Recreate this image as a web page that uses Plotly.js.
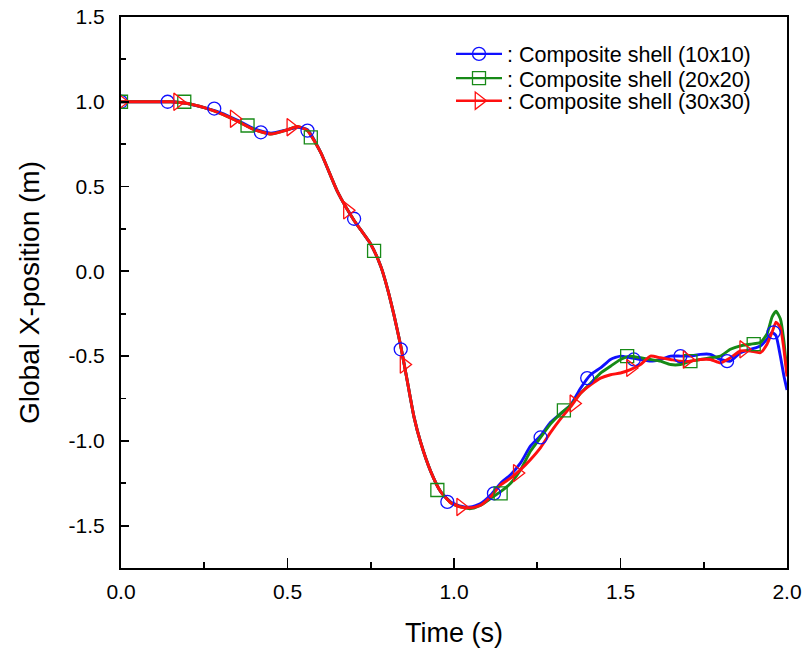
<!DOCTYPE html>
<html>
<head>
<meta charset="utf-8">
<script src="https://cdn.plot.ly/plotly-3.0.1.min.js"></script>
<style>html,body{margin:0;padding:0;background:#fff;}#chart{width:808px;height:654px;}</style>
</head>
<body>
<div id="chart"></div>
<script>
// ---- Data ----
var seriesNames = [": Composite shell (10x10)", ": Composite shell (20x20)", ": Composite shell (30x30)"];

var time = [0,0.05,0.1,0.15,0.2,0.25,0.3,0.35,0.4,0.45,0.5,0.53,0.56,0.6,0.65,0.7,0.75,0.78,0.8,0.82,0.84,0.86,0.88,0.9,0.93,0.96,0.99,1.02,1.05,1.08,1.11,1.14,1.17,1.2,1.23,1.26,1.29,1.32,1.35,1.38,1.41,1.44,1.47,1.5,1.53,1.56,1.59,1.62,1.65,1.68,1.71,1.74,1.77,1.8,1.83,1.86,1.89,1.92,1.94,1.955,1.967,1.98,1.99,2.0];

var blue10 = [1.0,1.0,1.0,1.0,0.99,0.965,0.935,0.89,0.84,0.815,0.835,0.85,0.835,0.70,0.47,0.30,0.16,0.03,-0.10,-0.26,-0.44,-0.65,-0.86,-1.01,-1.18,-1.30,-1.36,-1.385,-1.39,-1.37,-1.32,-1.25,-1.20,-1.13,-1.03,-0.97,-0.89,-0.84,-0.79,-0.69,-0.61,-0.57,-0.52,-0.50,-0.51,-0.52,-0.53,-0.52,-0.50,-0.50,-0.50,-0.49,-0.49,-0.52,-0.53,-0.48,-0.46,-0.44,-0.40,-0.36,-0.38,-0.50,-0.61,-0.70];

var green20 = [1.0,1.0,1.0,1.0,0.99,0.965,0.93,0.885,0.835,0.81,0.835,0.855,0.83,0.70,0.47,0.30,0.16,0.03,-0.10,-0.26,-0.44,-0.65,-0.86,-1.01,-1.18,-1.30,-1.365,-1.39,-1.40,-1.38,-1.34,-1.30,-1.25,-1.17,-1.06,-0.98,-0.90,-0.84,-0.79,-0.72,-0.66,-0.60,-0.56,-0.52,-0.50,-0.51,-0.52,-0.53,-0.55,-0.55,-0.53,-0.52,-0.51,-0.50,-0.46,-0.44,-0.43,-0.42,-0.37,-0.27,-0.235,-0.28,-0.40,-0.60];

var red30 = [1.0,1.0,1.0,1.0,0.99,0.965,0.93,0.885,0.835,0.81,0.835,0.855,0.83,0.70,0.47,0.30,0.16,0.03,-0.10,-0.26,-0.44,-0.65,-0.86,-1.01,-1.18,-1.30,-1.365,-1.39,-1.395,-1.38,-1.33,-1.26,-1.22,-1.17,-1.11,-1.04,-0.95,-0.87,-0.80,-0.72,-0.67,-0.63,-0.61,-0.60,-0.58,-0.55,-0.50,-0.51,-0.52,-0.53,-0.53,-0.52,-0.52,-0.54,-0.51,-0.47,-0.47,-0.48,-0.43,-0.36,-0.30,-0.33,-0.45,-0.62];

// marker sample points
var blueMarkT = [0,0.14,0.28,0.42,0.56,0.70,0.84,0.98,1.12,1.26,1.40,1.54,1.68,1.82,1.96];
var blueMarkY = [1.0,1.0,0.96,0.82,0.83,0.31,-0.46,-1.36,-1.31,-0.98,-0.63,-0.52,-0.50,-0.53,-0.36];
var greenMarkT = [0,0.19,0.38,0.57,0.76,0.95,1.14,1.33,1.52,1.71,1.90];
var greenMarkY = [1.0,1.0,0.86,0.79,0.12,-1.29,-1.31,-0.82,-0.50,-0.53,-0.43];
var redMarkT = [0,0.17,0.34,0.51,0.68,0.85,1.02,1.19,1.36,1.53,1.70,1.87];
var redMarkY = [1.0,1.0,0.90,0.85,0.36,-0.55,-1.39,-1.19,-0.78,-0.57,-0.52,-0.46];

var xTickVals = [0,0.5,1.0,1.5,2.0];
var xTickText = ["0.0","0.5","1.0","1.5","2.0"];
var yTickVals = [-1.5,-1.0,-0.5,0,0.5,1.0,1.5];
var yTickText = ["-1.5","-1.0","-0.5","0.0","0.5","1.0","1.5"];

// ---- Styles ----
var colors = ["#1010ff", "#178a17", "#ff1010"];
var symbols = ["circle-open", "square-open", "triangle-right-open"];
var msizes = [13, 13, 15];
var legendIds = ["legend", "legend2", "legend3"];

var lines = [blue10, green20, red30];
var markT = [blueMarkT, greenMarkT, redMarkT];
var markY = [blueMarkY, greenMarkY, redMarkY];

var traces = [];
for (var i = 0; i < 3; i++) {
  traces.push({
    x: time, y: lines[i], mode: "lines", type: "scatter",
    line: {color: colors[i], width: 2.9, shape: "spline", smoothing: 0.5},
    showlegend: false, hoverinfo: "skip"
  });
}
for (var i = 0; i < 3; i++) {
  traces.push({
    x: markT[i], y: markY[i], mode: "markers", type: "scatter",
    marker: {symbol: symbols[i], size: msizes[i], color: colors[i], line: {width: 1.3, color: colors[i]}},
    showlegend: false, hoverinfo: "skip"
  });
}
for (var i = 0; i < 3; i++) {
  traces.push({
    x: [null], y: [null], mode: "lines+markers", type: "scatter",
    name: seriesNames[i], legend: legendIds[i],
    line: {color: colors[i], width: 2.4},
    marker: {symbol: symbols[i], size: msizes[i], color: colors[i], line: {width: 1.3, color: colors[i]}},
    showlegend: true
  });
}

var FF = "Arial, 'Liberation Sans', sans-serif";
var axisFont = {family: FF, size: 21, color: "#000"};
var legFont = {family: FF, size: 21.5, color: "#000"};

function legendAt(yp) {
  return {
    x: 0.4955, y: yp, xanchor: "left", yanchor: "middle",
    bgcolor: "rgba(0,0,0,0)", borderwidth: 0,
    font: legFont, itemwidth: 46
  };
}

var layout = {
  width: 808, height: 654,
  margin: {l: 121, r: 21, t: 17, b: 86, pad: 0},
  paper_bgcolor: "#fff", plot_bgcolor: "#fff",
  font: {family: FF, color: "#000"},
  xaxis: {
    range: [0, 2.0], tickvals: xTickVals, ticktext: xTickText,
    ticks: "inside", ticklen: 10, tickwidth: 1.8, tickcolor: "#000",
    minor: {dtick: 0.25, ticks: "inside", ticklen: 6, tickwidth: 1.8, tickcolor: "#000"},
    showline: true, linewidth: 2, linecolor: "#000", mirror: true,
    showgrid: false, zeroline: false, tickfont: axisFont, ticklabelstandoff: 4,
    title: {text: "Time (s)", font: {family: FF, size: 27, color: "#000"}, standoff: 21}
  },
  yaxis: {
    range: [-1.75, 1.5], tickvals: yTickVals, ticktext: yTickText,
    ticks: "inside", ticklen: 8, tickwidth: 1.8, tickcolor: "#000",
    minor: {dtick: 0.25, ticks: "inside", ticklen: 5, tickwidth: 1.8, tickcolor: "#000"},
    showline: true, linewidth: 2, linecolor: "#000", mirror: true,
    showgrid: false, zeroline: false, tickfont: axisFont, ticklabelstandoff: 10,
    title: {text: "Global X-position (m)", font: {family: FF, size: 28, color: "#000"}, standoff: 21}
  },
  legend: legendAt(0.933),
  legend2: legendAt(0.889),
  legend3: legendAt(0.848),
  showlegend: true
};

Plotly.newPlot("chart", traces, layout, {displayModeBar: false, staticPlot: true});
</script>
</body>
</html>
